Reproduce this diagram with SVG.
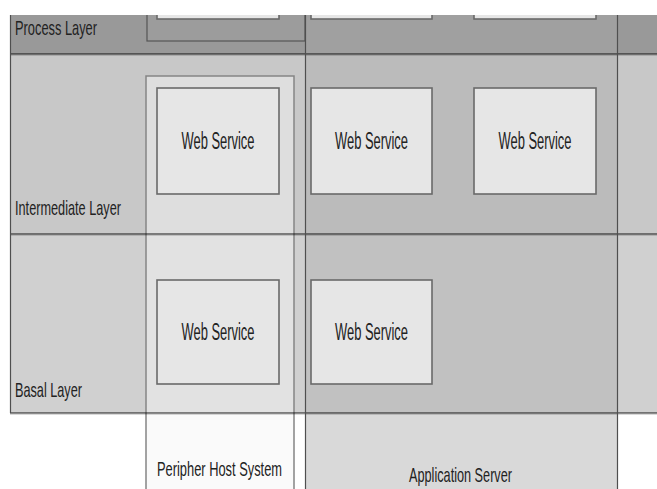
<svg xmlns="http://www.w3.org/2000/svg" width="657" height="489" viewBox="0 0 657 489">
<defs>
<clipPath id="clip"><rect x="0" y="15" width="657" height="474"/></clipPath>
<style>
.ws{fill:#e6e6e6;stroke:#6a6a6a;stroke-width:1.6}
.t{font-family:"Liberation Sans",Arial,sans-serif;fill:#222}
.sep{stroke:#000;stroke-opacity:0.45;stroke-width:2}
.shd{stroke:#000;stroke-opacity:0.15;stroke-width:1}
.vdark{stroke:#4f4f4f;stroke-width:1.2}
.vmid{stroke:#858585;stroke-width:1.5;fill:none}
</style>
</defs>
<rect width="657" height="489" fill="#fff"/>
<g clip-path="url(#clip)">
<g id="layers">
<rect x="10" y="15" width="647" height="39" fill="#999999"/>
<rect x="10" y="54" width="647" height="180" fill="#c8c8c8"/>
<rect x="10" y="234" width="647" height="179" fill="#d0d0d0"/>
</g>
<g id="app-server-column">
<rect x="305" y="15" width="312" height="39" fill="#a0a0a0"/>
<rect x="305" y="54" width="312" height="180" fill="#bbbbbb"/>
<rect x="305" y="234" width="312" height="179" fill="#c1c1c1"/>
<rect x="305" y="413" width="312" height="80" fill="#d9d9d9"/>
</g>
<g id="process-host-box">
<rect x="147" y="-20" width="158" height="61" fill="#9c9c9c" stroke="#555" stroke-width="1.2"/>
</g>
<g id="peripher-column">
<rect x="146" y="76" width="148" height="158" fill="#dedede"/>
<rect x="146" y="234" width="148" height="179" fill="#e2e2e2"/>
<rect x="146" y="413" width="148" height="80" fill="#fafafa"/>
<rect class="vmid" x="146" y="76" width="148" height="430"/>
</g>
<g id="separators">
<line class="sep" x1="10" y1="54" x2="657" y2="54"/>
<line class="shd" x1="10" y1="55.5" x2="657" y2="55.5"/>
<line class="sep" x1="10" y1="234" x2="657" y2="234"/>
<line class="shd" x1="10" y1="235.5" x2="657" y2="235.5"/>
<line class="sep" x1="10" y1="413" x2="657" y2="413"/>
<line class="shd" x1="10" y1="414.5" x2="657" y2="414.5"/>
<line class="vdark" x1="10.5" y1="15" x2="10.5" y2="413"/>
<line class="vdark" x1="305.5" y1="15" x2="305.5" y2="489"/>
<line class="vdark" x1="617.5" y1="15" x2="617.5" y2="489"/>
</g>
<g id="connectors"/>
<g id="process-ws-1"><rect class="ws" x="157" y="-60" width="122" height="79"/></g>
<g id="process-ws-2"><rect class="ws" x="311" y="-60" width="121" height="79"/></g>
<g id="process-ws-3"><rect class="ws" x="474" y="-60" width="122" height="79"/></g>
<g id="int-ws-1"><rect class="ws" x="157" y="88" width="122" height="106"/><text class="t" x="218" y="149" font-size="23" text-anchor="middle" textLength="73" lengthAdjust="spacingAndGlyphs">Web Service</text></g>
<g id="int-ws-2"><rect class="ws" x="311" y="88" width="121" height="106"/><text class="t" x="371.5" y="149" font-size="23" text-anchor="middle" textLength="73" lengthAdjust="spacingAndGlyphs">Web Service</text></g>
<g id="int-ws-3"><rect class="ws" x="474" y="88" width="122" height="106"/><text class="t" x="535" y="149" font-size="23" text-anchor="middle" textLength="73" lengthAdjust="spacingAndGlyphs">Web Service</text></g>
<g id="basal-ws-1"><rect class="ws" x="157" y="280" width="122" height="104"/><text class="t" x="218" y="340" font-size="23" text-anchor="middle" textLength="73" lengthAdjust="spacingAndGlyphs">Web Service</text></g>
<g id="basal-ws-2"><rect class="ws" x="311" y="280" width="121" height="104"/><text class="t" x="371.5" y="340" font-size="23" text-anchor="middle" textLength="73" lengthAdjust="spacingAndGlyphs">Web Service</text></g>
<g id="labels">
<text class="t" x="15" y="35" font-size="21" textLength="82" lengthAdjust="spacingAndGlyphs">Process Layer</text>
<text class="t" x="15" y="215" font-size="21" textLength="106" lengthAdjust="spacingAndGlyphs">Intermediate Layer</text>
<text class="t" x="15" y="397" font-size="21" textLength="67" lengthAdjust="spacingAndGlyphs">Basal Layer</text>
<text class="t" x="219.5" y="476" font-size="21" text-anchor="middle" textLength="125" lengthAdjust="spacingAndGlyphs">Peripher Host System</text>
<text class="t" x="460.5" y="482" font-size="21" text-anchor="middle" textLength="103" lengthAdjust="spacingAndGlyphs">Application Server</text>
</g>
</g>
</svg>
